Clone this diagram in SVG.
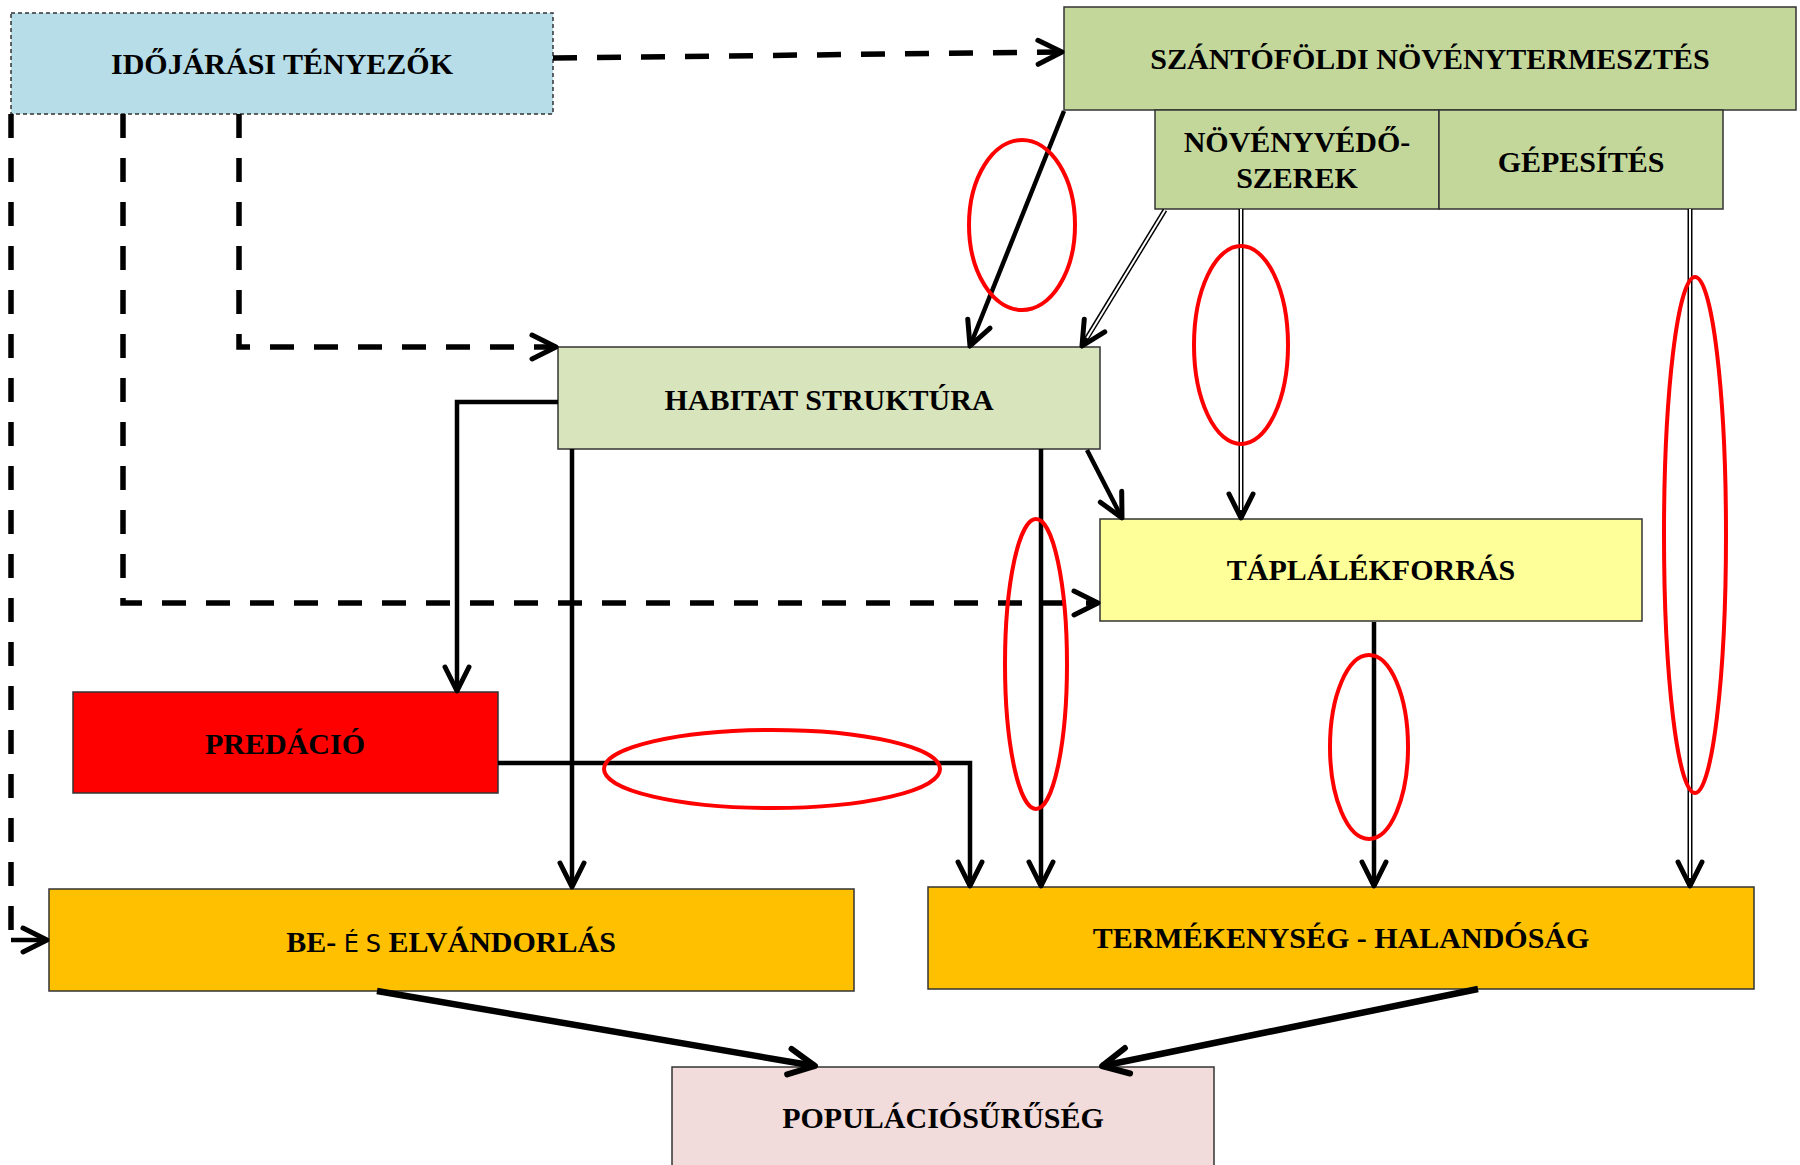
<svg xmlns="http://www.w3.org/2000/svg" width="1800" height="1165" viewBox="0 0 1800 1165">
<style>
.box{stroke:#333;stroke-width:1.5}
.lbl{font-family:"Liberation Serif","Times New Roman",serif;font-weight:bold;font-size:30px;fill:#000;text-anchor:middle}
.es{font-family:"DejaVu Sans",sans-serif;font-weight:normal;font-size:24px}
.dash{fill:none;stroke:#000;stroke-width:5.5;stroke-dasharray:24 20}
.solid{fill:none;stroke:#000;stroke-width:4.5}
.thick{fill:none;stroke:#000;stroke-width:6.5}
.dbl{fill:none;stroke:#000;stroke-width:5}
.dblin{fill:none;stroke:#fff;stroke-width:2}
.ring{fill:none;stroke:#ff0000;stroke-width:4}
</style>
<defs>
<marker id="ah" markerUnits="userSpaceOnUse" orient="auto" overflow="visible" markerWidth="1" markerHeight="1" refX="0" refY="0"><path d="M-24,-12 L0,0 L-24,12" fill="none" stroke="#000" stroke-width="5" stroke-linejoin="round" stroke-linecap="round"/></marker>
<marker id="ah2" markerUnits="userSpaceOnUse" orient="auto" overflow="visible" markerWidth="1" markerHeight="1" refX="0" refY="0"><path d="M-26,-13 L0,0 L-26,13" fill="none" stroke="#000" stroke-width="6" stroke-linejoin="round" stroke-linecap="round"/></marker>
</defs>
<rect width="1800" height="1165" fill="#fff"/>
<g id="n-idojaras"><rect class="box" x="11" y="13" width="542" height="101" fill="#b7dde8" stroke-dasharray="4 3" stroke-width="1"/><text class="lbl" x="282" y="74">IDŐJÁRÁSI TÉNYEZŐK</text></g>
<g id="n-szanto"><rect class="box" x="1064" y="7" width="732" height="103" fill="#c4d79b"/><text class="lbl" x="1430" y="69">SZÁNTÓFÖLDI NÖVÉNYTERMESZTÉS</text></g>
<g id="n-novenyvedo"><rect class="box" x="1155" y="110" width="284" height="99" fill="#c4d79b"/><text class="lbl" x="1297" y="152">NÖVÉNYVÉDŐ-</text><text class="lbl" x="1297" y="188">SZEREK</text></g>
<g id="n-gepesites"><rect class="box" x="1439" y="110" width="284" height="99" fill="#c4d79b"/><text class="lbl" x="1581" y="172">GÉPESÍTÉS</text></g>
<g id="n-habitat"><rect class="box" x="558" y="347" width="542" height="102" fill="#d8e4bc"/><text class="lbl" x="829" y="410">HABITAT STRUKTÚRA</text></g>
<g id="n-taplalek"><rect class="box" x="1100" y="519" width="542" height="102" fill="#ffff99"/><text class="lbl" x="1371" y="580">TÁPLÁLÉKFORRÁS</text></g>
<g id="n-predacio"><rect class="box" x="73" y="692" width="425" height="101" fill="#ff0000"/><text class="lbl" x="285" y="754">PREDÁCIÓ</text></g>
<g id="n-vandorlas"><rect class="box" x="49" y="889" width="805" height="102" fill="#ffc000"/><text class="lbl" x="451" y="952">BE- <tspan class="es" letter-spacing="7">É</tspan><tspan class="es">S</tspan> ELVÁNDORLÁS</text></g>
<g id="n-termekenyseg"><rect class="box" x="928" y="887" width="826" height="102" fill="#ffc000"/><text class="lbl" x="1341" y="948">TERMÉKENYSÉG - HALANDÓSÁG</text></g>
<g id="n-populacio"><rect class="box" x="672" y="1067" width="542" height="110" fill="#f2dcdb"/><text class="lbl" x="943" y="1128">POPULÁCIÓSŰRŰSÉG</text></g>
<g id="connectors">
<path class="dash" d="M553,58 L1062,52" marker-end="url(#ah)"/>
<path class="dash" d="M11,114 V936"/>
<path class="solid" d="M11,940 H47" stroke-width="5" marker-end="url(#ah)"/>
<path class="dash" d="M123,114 V603 H1098" marker-end="url(#ah)"/>
<path class="dash" d="M239,114 V347 H556" marker-end="url(#ah)"/>
<path class="solid" d="M1064,111 L970,346" marker-end="url(#ah)"/>
<path class="dbl" d="M1165,210 L1082,346" marker-end="url(#ah)"/>
<path class="dblin" d="M1165,210 L1087,338"/>
<path class="dbl" d="M1241,209 V518" marker-end="url(#ah)"/>
<path class="dblin" d="M1241,209 V510"/>
<path class="dbl" d="M1690,209 V886" marker-end="url(#ah)"/>
<path class="dblin" d="M1690,209 V878"/>
<path class="solid" d="M558,402 H457 V691" marker-end="url(#ah)"/>
<path class="solid" d="M572,449 V887" marker-end="url(#ah)"/>
<path class="solid" d="M1041,449 V886" marker-end="url(#ah)"/>
<path class="solid" d="M1087,450 L1122,518" marker-end="url(#ah)"/>
<path class="solid" d="M498,763 H970 V886" stroke-width="5" marker-end="url(#ah)"/>
<path class="solid" d="M1374,622 V886" stroke-width="5" marker-end="url(#ah)"/>
<path class="thick" d="M377,991 L815,1066" marker-end="url(#ah2)"/>
<path class="thick" d="M1478,989 L1102,1066" marker-end="url(#ah2)"/>
</g>
<g id="highlights">
<ellipse class="ring" cx="1022" cy="225" rx="53" ry="85"/>
<ellipse class="ring" cx="1241" cy="345" rx="47" ry="99"/>
<ellipse class="ring" cx="1695" cy="535" rx="31" ry="258"/>
<ellipse class="ring" cx="1036" cy="664" rx="31" ry="145"/>
<ellipse class="ring" cx="1369" cy="747" rx="39" ry="92"/>
<ellipse class="ring" cx="772" cy="769" rx="168" ry="39"/>
</g>
</svg>
